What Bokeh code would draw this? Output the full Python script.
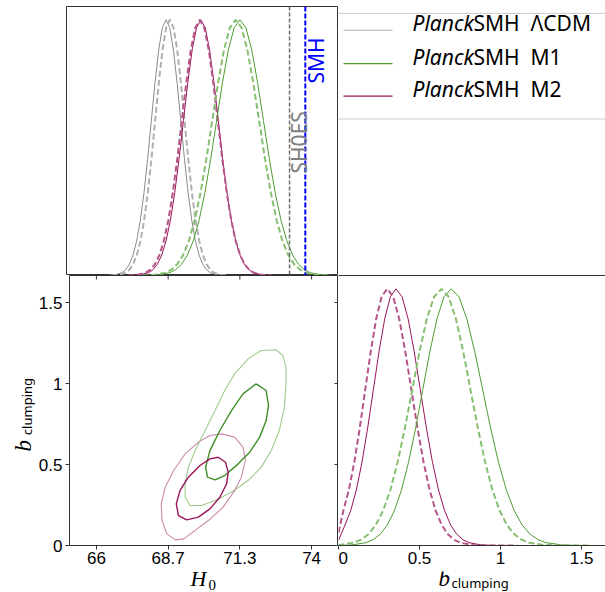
import math
from bokeh.plotting import figure
from bokeh.layouts import column, row
from bokeh.models import Range1d, LinearAxis, FixedTicker, Span, Label
from bokeh.core.properties import value
from bokeh.embed import file_html
from bokeh.resources import INLINE

# ---------------- data ----------------
h0_ticks = [66.0, 68.6667, 71.3333, 74.0]
h0_tick_labels = ["66", "68.7", "71.3", "74"]
b_ticks = [0, 0.5, 1, 1.5]
b_tick_labels = ["0", "0.5", "1", "1.5"]

model_names = ["\u039bCDM", "M1", "M2"]
sh0es_h0 = 73.2
smh_h0 = 73.78

# 1D H0 posteriors (normalised to peak 1)
lcdm_h0_x = [66.50, 66.77, 67.04, 67.175, 67.31, 67.445, 67.58, 67.715, 67.85, 67.985, 68.12, 68.255, 68.39, 68.525, 68.66,
             68.795, 68.93, 69.065, 69.20, 69.335, 69.47, 69.605, 69.74, 69.875, 70.01, 70.145, 70.28, 70.55, 70.82]
lcdm_h0_y = [0.0003, 0.0022, 0.0111, 0.0228, 0.0439, 0.0796, 0.1353, 0.2163, 0.3247, 0.4578, 0.6065, 0.7548, 0.8825, 0.9692, 1.0,
             0.9692, 0.8825, 0.7548, 0.6065, 0.4578, 0.3247, 0.2163, 0.1353, 0.0796, 0.0439, 0.0228, 0.0111, 0.0022, 0.0003]
lcdm_h0_alt_x = [66.64, 66.91, 67.18, 67.315, 67.45, 67.585, 67.72, 67.855, 67.99, 68.125, 68.26, 68.395, 68.53, 68.665, 68.80,
                 68.935, 69.07, 69.205, 69.34, 69.475, 69.61, 69.745, 69.88, 70.015, 70.15, 70.285, 70.42, 70.69, 70.96]
lcdm_h0_alt_y = [0.0003, 0.0022, 0.0111, 0.0228, 0.0439, 0.0796, 0.1353, 0.2163, 0.3247, 0.4578, 0.6065, 0.7548, 0.8825, 0.9692, 1.0,
                 0.9692, 0.8825, 0.7548, 0.6065, 0.4578, 0.3247, 0.2163, 0.1353, 0.0796, 0.0439, 0.0228, 0.0111, 0.0022, 0.0003]
m2_h0_x = [67.38, 67.70, 68.02, 68.18, 68.34, 68.50, 68.66, 68.82, 68.98, 69.14, 69.30, 69.46, 69.62, 69.78, 69.94,
           70.10, 70.26, 70.42, 70.58, 70.74, 70.90, 71.06, 71.22, 71.38, 71.54, 71.70, 71.86, 72.18, 72.50]
m2_h0_y = [0.0003, 0.0022, 0.0111, 0.0228, 0.0439, 0.0796, 0.1353, 0.2163, 0.3247, 0.4578, 0.6065, 0.7548, 0.8825, 0.9692, 1.0,
           0.9692, 0.8825, 0.7548, 0.6065, 0.4578, 0.3247, 0.2163, 0.1353, 0.0796, 0.0439, 0.0228, 0.0111, 0.0022, 0.0003]
m2_h0_alt_x = [67.26, 67.59, 67.92, 68.085, 68.25, 68.415, 68.58, 68.745, 68.91, 69.075, 69.24, 69.405, 69.57, 69.735, 69.90,
               70.065, 70.23, 70.395, 70.56, 70.725, 70.89, 71.055, 71.22, 71.385, 71.55, 71.715, 71.88, 72.21, 72.54]
m2_h0_alt_y = [0.0003, 0.0022, 0.0111, 0.0228, 0.0439, 0.0796, 0.1353, 0.2163, 0.3247, 0.4578, 0.6065, 0.7548, 0.8825, 0.9692, 1.0,
               0.9692, 0.8825, 0.7548, 0.6065, 0.4578, 0.3247, 0.2163, 0.1353, 0.0796, 0.0439, 0.0228, 0.0111, 0.0022, 0.0003]
m1_h0_x = [67.94, 68.37, 68.80, 69.015, 69.23, 69.445, 69.66, 69.875, 70.09, 70.305, 70.52, 70.735, 70.95, 71.165, 71.38,
           71.595, 71.81, 72.025, 72.24, 72.455, 72.67, 72.885, 73.10, 73.315, 73.53, 73.745, 73.96, 74.39, 74.82]
m1_h0_y = [0.0003, 0.0022, 0.0111, 0.0228, 0.0439, 0.0796, 0.1353, 0.2163, 0.3247, 0.4578, 0.6065, 0.7548, 0.8825, 0.9692, 1.0,
           0.9692, 0.8825, 0.7548, 0.6065, 0.4578, 0.3247, 0.2163, 0.1353, 0.0796, 0.0439, 0.0228, 0.0111, 0.0022, 0.0003]
m1_h0_alt_x = [67.78, 68.21, 68.64, 68.855, 69.07, 69.285, 69.50, 69.715, 69.93, 70.145, 70.36, 70.575, 70.79, 71.005, 71.22,
               71.435, 71.65, 71.865, 72.08, 72.295, 72.51, 72.725, 72.94, 73.155, 73.37, 73.585, 73.80, 74.23, 74.66]
m1_h0_alt_y = [0.0003, 0.0022, 0.0111, 0.0228, 0.0439, 0.0796, 0.1353, 0.2163, 0.3247, 0.4578, 0.6065, 0.7548, 0.8825, 0.9692, 1.0,
               0.9692, 0.8825, 0.7548, 0.6065, 0.4578, 0.3247, 0.2163, 0.1353, 0.0796, 0.0439, 0.0228, 0.0111, 0.0022, 0.0003]

# 1D b_clumping posteriors
m2_b_x = [0.0, 0.04, 0.075, 0.11, 0.145, 0.18, 0.215, 0.25, 0.285, 0.32, 0.355, 0.3925, 0.43, 0.4675, 0.505, 0.5425,
          0.58, 0.6175, 0.655, 0.6925, 0.73, 0.7675, 0.805, 0.88, 0.955, 1.13]
m2_b_y = [0.02, 0.0796, 0.1353, 0.2163, 0.3247, 0.4578, 0.6065, 0.7548, 0.8825, 0.9692, 1.0, 0.9692, 0.8825, 0.7548, 0.6065, 0.4578,
          0.3247, 0.2163, 0.1353, 0.0796, 0.0439, 0.0228, 0.0111, 0.0022, 0.0003, 0.0]
m2_b_alt_x = [0.0, 0.03, 0.06375, 0.0975, 0.13125, 0.165, 0.19875, 0.2325, 0.26625, 0.30, 0.3375, 0.375, 0.4125, 0.45, 0.4875,
              0.525, 0.5625, 0.60, 0.6375, 0.675, 0.7125, 0.75, 0.825, 0.90, 1.10]
m2_b_alt_y = [0.05, 0.1353, 0.2163, 0.3247, 0.4578, 0.6065, 0.7548, 0.8825, 0.9692, 1.0, 0.9692, 0.8825, 0.7548, 0.6065, 0.4578,
              0.3247, 0.2163, 0.1353, 0.0796, 0.0439, 0.0228, 0.0111, 0.0022, 0.0003, 0.0]
m1_b_x = [0.0, 0.0825, 0.17, 0.21375, 0.2575, 0.30125, 0.345, 0.38875, 0.4325, 0.47625, 0.52, 0.56375, 0.6075, 0.65125, 0.695,
          0.74375, 0.7925, 0.84125, 0.89, 0.93875, 0.9875, 1.03625, 1.085, 1.13375, 1.1825, 1.23125, 1.28, 1.3775, 1.475, 1.65]
m1_b_y = [0.0003, 0.0022, 0.0111, 0.0228, 0.0439, 0.0796, 0.1353, 0.2163, 0.3247, 0.4578, 0.6065, 0.7548, 0.8825, 0.9692, 1.0,
          0.9692, 0.8825, 0.7548, 0.6065, 0.4578, 0.3247, 0.2163, 0.1353, 0.0796, 0.0439, 0.0228, 0.0111, 0.0022, 0.0003, 0.0]
m1_b_alt_x = [0.0, 0.005, 0.095, 0.14, 0.185, 0.23, 0.275, 0.32, 0.365, 0.41, 0.455, 0.50, 0.545, 0.59, 0.635,
              0.68, 0.725, 0.77, 0.815, 0.86, 0.905, 0.95, 0.995, 1.04, 1.085, 1.13, 1.175, 1.265, 1.355, 1.55]
m1_b_alt_y = [0.0, 0.0022, 0.0111, 0.0228, 0.0439, 0.0796, 0.1353, 0.2163, 0.3247, 0.4578, 0.6065, 0.7548, 0.8825, 0.9692, 1.0,
              0.9692, 0.8825, 0.7548, 0.6065, 0.4578, 0.3247, 0.2163, 0.1353, 0.0796, 0.0439, 0.0228, 0.0111, 0.0022, 0.0003, 0.0]

# 2D contours (H0, b_clumping)
m1_outer_h0 = [72.13, 72.68, 72.93, 73.05, 73.05, 72.99, 72.80, 72.50, 72.13, 71.64, 71.02, 70.41, 69.91, 69.48, 69.30, 69.30,
               69.42, 69.67, 70.04, 70.41, 70.77, 71.14, 71.64]
m1_outer_b = [1.204, 1.208, 1.173, 1.101, 0.998, 0.854, 0.710, 0.586, 0.484, 0.401, 0.329, 0.278, 0.247, 0.247, 0.298, 0.381,
              0.484, 0.586, 0.710, 0.833, 0.957, 1.060, 1.152]
m1_inner_h0 = [71.94, 72.31, 72.40, 72.31, 72.07, 71.70, 71.27, 70.77, 70.41, 70.13, 70.06, 70.22, 70.59, 71.02, 71.45]
m1_inner_b = [0.998, 0.957, 0.864, 0.772, 0.669, 0.576, 0.504, 0.432, 0.405, 0.422, 0.484, 0.586, 0.710, 0.833, 0.936]
m2_outer_h0 = [70.65, 71.14, 71.45, 71.54, 71.39, 71.14, 70.71, 70.16, 69.67, 69.24, 68.93, 68.62, 68.44, 68.41, 68.56, 68.87,
               69.30, 69.79, 70.22]
m2_outer_b = [0.689, 0.669, 0.607, 0.525, 0.422, 0.339, 0.237, 0.154, 0.093, 0.041, 0.035, 0.072, 0.154, 0.257, 0.360, 0.463,
              0.566, 0.638, 0.679]
m2_inner_h0 = [70.53, 70.80, 70.90, 70.84, 70.59, 70.22, 69.79, 69.36, 69.05, 68.97, 69.11, 69.42, 69.85, 70.22]
m2_inner_b = [0.545, 0.514, 0.453, 0.381, 0.298, 0.226, 0.175, 0.158, 0.185, 0.257, 0.340, 0.422, 0.494, 0.535]

# ---------------- styles ----------------
SPINE = "#333333"
FONT = "Noto Sans"
TICK_FONT = "Liberation Sans"
SERIF = "Liberation Serif"
GRAY, GRAY_L = "#8a8a8a", "#b0b0b0"
MAG, MAG_L = "#99145a", "#b5558a"
GRN, GRN_L = "#4f9c2f", "#86bf70"
MAG_C_OUT, GRN_C_OUT = "#cc8aac", "#9ccc8a"
DASH = "6 3"


def make_fig(w, h, xr, yr, left, right, top, bottom, xloc=None, yloc=None, outline=True):
    p = figure(width=w, height=h, x_range=xr, y_range=yr, x_axis_location=xloc, y_axis_location=yloc,
               min_border_left=left, min_border_right=right, min_border_top=top, min_border_bottom=bottom,
               output_backend="svg", toolbar_location=None, tools="")
    p.grid.grid_line_color = None
    p.background_fill_color = "white"
    p.border_fill_color = "white"
    p.outline_line_color = SPINE if outline else None
    p.outline_line_width = 1
    return p


def style_axis(ax, ticks, labels, standoff):
    ax.ticker = FixedTicker(ticks=ticks)
    ax.major_label_overrides = {t: l for t, l in zip(ticks, labels)}
    ax.major_tick_in = 0
    ax.major_tick_out = 4
    ax.minor_tick_line_color = None
    ax.major_tick_line_color = SPINE
    ax.axis_line_color = None
    ax.major_label_text_font = TICK_FONT
    ax.major_label_text_font_size = "17px"
    ax.major_label_text_color = "black"
    ax.major_label_standoff = standoff


H0_RANGE = (65, 75)
B_RANGE = (0, 1.6667)
D_MAX = 1.052
ROW2_H = 296   # 270 px frame + 26 px for x tick labels
YLAB_W = 35

# ---------------- top-left: H0 1D ----------------
tl = make_fig(338, 275, Range1d(*H0_RANGE), Range1d(0, D_MAX), 66, 0, 6, 0)
tl.line(lcdm_h0_x, lcdm_h0_y, line_color=GRAY, line_width=1)
tl.line(lcdm_h0_alt_x, lcdm_h0_alt_y, line_color=GRAY_L, line_width=2, line_dash=DASH)
tl.line(m2_h0_x, m2_h0_y, line_color=MAG, line_width=1)
tl.line(m2_h0_alt_x, m2_h0_alt_y, line_color=MAG_L, line_width=2, line_dash=DASH)
tl.line(m1_h0_x, m1_h0_y, line_color=GRN, line_width=1)
tl.line(m1_h0_alt_x, m1_h0_alt_y, line_color=GRN_L, line_width=2, line_dash=DASH)
tl.add_layout(Span(location=sh0es_h0, dimension="height", line_color="#6e6e6e", line_width=1.5, line_dash="4 2"))
tl.add_layout(Span(location=smh_h0, dimension="height", line_color="blue", line_width=2, line_dash="5 2"))
tl.add_layout(Label(x=73.56, y=0.399, text="SH0ES", angle=math.pi / 2, text_color="#7f7f7f", text_font=FONT,
                    text_font_size="21px", text_align="left", text_baseline="alphabetic"))
tl.add_layout(Label(x=74.17, y=0.751, text="SMH", angle=math.pi / 2, text_color="blue", text_font=FONT,
                    text_font_size="21px", text_align="left", text_baseline="alphabetic"))

# ---------------- top-right: legend ----------------
tr = make_fig(267, 275, Range1d(0, 267), Range1d(0, 275), 0, 0, 0, 0, outline=False)
leg_y = [250.7, 216.7, 183.3]
leg_text_y = [y + 7 for y in leg_y]
tr.quad(left=[-2], right=[272], bottom=[160], top=[268], fill_color="white", line_color="#cccccc", line_width=1)
tr.segment(x0=[5, 5, 5], x1=[54, 54, 54], y0=leg_y, y1=leg_y, line_color=[GRAY_L, GRN, MAG], line_width=1.2)
tr.text(x=[74] * 3, y=leg_text_y, text=["Planck"] * 3, text_font=value(FONT), text_font_style="italic",
        text_font_size="21px", text_baseline="middle", text_align="left", text_color="black")
tr.text(x=[135] * 3, y=leg_text_y, text=["SMH"] * 3, text_font=value(FONT),
        text_font_size="21px", text_baseline="middle", text_align="left", text_color="black")
tr.text(x=[192] * 3, y=leg_text_y, text=model_names, text_font=value(FONT),
        text_font_size="21px", text_baseline="middle", text_align="left", text_color="black")

# ---------------- left strip: y axis title ----------------
ylab = make_fig(YLAB_W, ROW2_H, Range1d(0, YLAB_W), Range1d(0, ROW2_H), 0, 0, 0, 0, outline=False)
ylab.text(x=[22.5], y=[103], text=["b"], angle=math.pi / 2, text_font=value(SERIF), text_font_style="italic",
          text_font_size="23px", text_baseline="alphabetic", text_align="left", text_color="black")
ylab.text(x=[26], y=[121], text=["clumping"], angle=math.pi / 2, text_font=value(FONT),
          text_font_size="13px", text_baseline="alphabetic", text_align="left", text_color="black")

# ---------------- bottom-left: 2D contours ----------------
bl = make_fig(338 - YLAB_W, ROW2_H, Range1d(*H0_RANGE), Range1d(*B_RANGE), 66 - YLAB_W, 0, 0, ROW2_H - 270,
              xloc="below", yloc="left")
style_axis(bl.xaxis[0], h0_ticks, h0_tick_labels, 2)
style_axis(bl.yaxis[0], b_ticks, b_tick_labels, 3)
# tick marks shared with the neighbouring panels (top: H0 ticks, right: b ticks), drawn inward
bl.scatter(x=h0_ticks, y=[B_RANGE[1]] * len(h0_ticks), marker="dash", angle=math.pi / 2, size=8,
           line_color=SPINE, line_width=1)
bl.scatter(x=[H0_RANGE[1]] * len(b_ticks), y=b_ticks, marker="dash", size=8, line_color=SPINE, line_width=1)
for xs, ys, col, w in [(m1_outer_h0, m1_outer_b, GRN_C_OUT, 1.1), (m2_outer_h0, m2_outer_b, MAG_C_OUT, 1.1),
                       (m1_inner_h0, m1_inner_b, "#3e8f27", 1.4), (m2_inner_h0, m2_inner_b, MAG, 1.4)]:
    bl.line(xs + xs[:1], ys + ys[:1], line_color=col, line_width=w)

# ---------------- bottom-right: b_clumping 1D ----------------
br = make_fig(267, ROW2_H, Range1d(0, 1.648), Range1d(0, D_MAX), 0, 0, 0, ROW2_H - 270,
              xloc="below", yloc=None, outline=False)
style_axis(br.xaxis[0], b_ticks, b_tick_labels, 2)
br.xaxis[0].axis_line_color = SPINE
br.add_layout(LinearAxis(ticker=FixedTicker(ticks=[]), major_tick_in=0, major_tick_out=0, minor_tick_in=0,
                         minor_tick_out=0, major_label_standoff=0, axis_line_color=SPINE), "above")
br.line(m2_b_x, m2_b_y, line_color=MAG, line_width=1)
br.line(m2_b_alt_x, m2_b_alt_y, line_color=MAG_L, line_width=2, line_dash=DASH)
br.line(m1_b_x, m1_b_y, line_color=GRN, line_width=1)
br.line(m1_b_alt_x, m1_b_alt_y, line_color=GRN_L, line_width=2, line_dash=DASH)

# ---------------- bottom strips: x axis titles ----------------
XLAB_H = 592 - 275 - ROW2_H
xlab_l = make_fig(338, XLAB_H, Range1d(0, 338), Range1d(0, XLAB_H), 0, 0, 0, 0, outline=False)
xlab_l.text(x=[190], y=[14.5], text=["H"], text_font=value(SERIF), text_font_style="italic",
            text_font_size="22px", text_baseline="alphabetic", text_align="left", text_color="black")
xlab_l.text(x=[208], y=[8], text=["0"], text_font=value(SERIF),
            text_font_size="15px", text_baseline="alphabetic", text_align="left", text_color="black")
xlab_r = make_fig(267, XLAB_H, Range1d(0, 267), Range1d(0, XLAB_H), 0, 0, 0, 0, outline=False)
xlab_r.text(x=[100], y=[14.5], text=["b"], text_font=value(SERIF), text_font_style="italic",
            text_font_size="23px", text_baseline="alphabetic", text_align="left", text_color="black")
xlab_r.text(x=[113], y=[9.5], text=["clumping"], text_font=value(FONT),
            text_font_size="13px", text_baseline="alphabetic", text_align="left", text_color="black")

layout = column(row(tl, tr), row(ylab, bl, br), row(xlab_l, xlab_r))
open("out.html", "w").write(file_html(layout, INLINE, "plot"))
